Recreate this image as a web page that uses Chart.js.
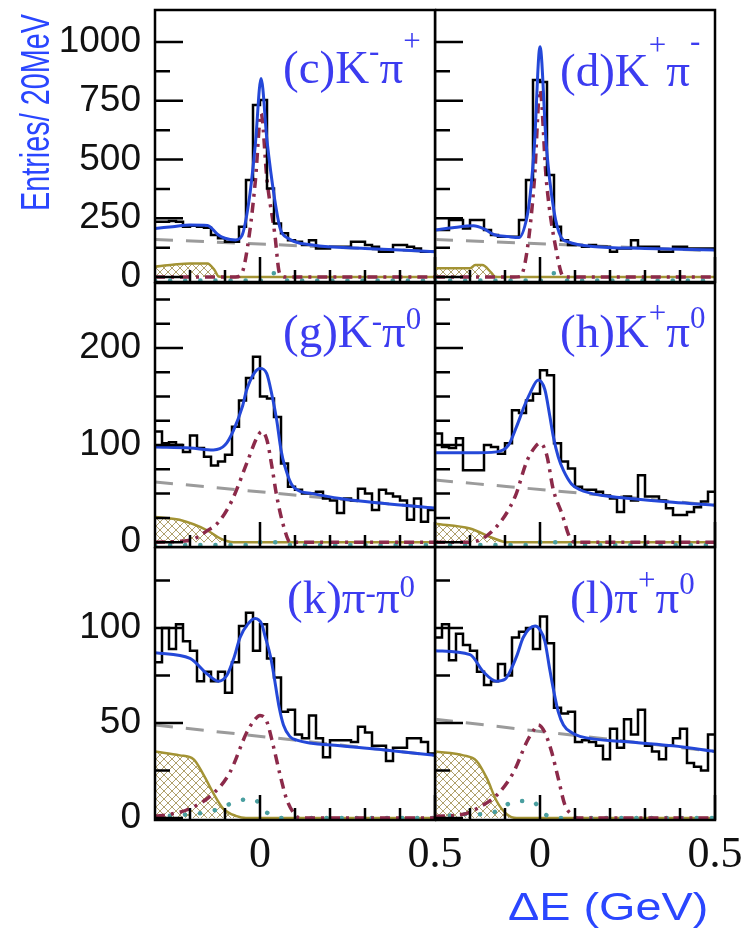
<!DOCTYPE html>
<html>
<head>
<meta charset="utf-8">
<script src="https://cdn.jsdelivr.net/npm/chart.js@4.4.1/dist/chart.umd.min.js"></script>
<style>
  body { margin: 0; background: #fff; }
  #wrap { position: relative; width: 751px; height: 928px; overflow: hidden; background: #fff; }
  canvas { position: absolute; }
  .lbl { position: absolute; font-family: 'Liberation Serif', 'Times New Roman', serif; font-size: 47px; line-height: 1; color: #3c3cf0; white-space: nowrap; }
  .lbl .up { font-size: 31px; line-height: 0; }
  .title { position: absolute; font-family: 'Liberation Sans', Arial, sans-serif; line-height: 1; color: #2a46ff; white-space: nowrap; transform-origin: 0 0; }
</style>
</head>
<body>
<div id="wrap"></div>
<script>
// binning in ΔE (GeV), 20 MeV bins
const xMin = -0.3, xMax = 0.5, binWidth = 0.02;
const xLabels = [0, 0.5];
const xMajor = [0, 0.5];
const xMinor = [-0.2, -0.1, 0.1, 0.2, 0.3, 0.4];
const topTicks = [0, 250, 500, 750, 1000];
const topMinor = [125, 375, 625, 875];
const midTicks = [0, 100, 200];
const midMinor = [25, 50, 75, 125, 150, 175, 225, 250];
const botTicks = [0, 50, 100];
const botMinor = [25, 75, 125];

// (c) K- pi+
const histC = [235,235,238,235,214,218,214,210,179,165,150,150,214,413,732,753,377,228,186,157,150,136,157,122,122,129,129,129,150,150,136,129,108,108,136,136,129,122,108,108];
const fitC = [[-0.3,207],[-0.25,214],[-0.2,221],[-0.15,219],[-0.12,180],[-0.1,165],[-0.07,158],[-0.052,175],[-0.03,340],[-0.013,570],[0.003,845],[0.02,580],[0.042,330],[0.058,205],[0.08,165],[0.15,136],[0.3,122],[0.5,108]];
const bkgC = [[-0.3,160],[0.5,108]];
const sigC = [[-0.3,0],[-0.07,0],[-0.052,16],[-0.03,186],[-0.013,413],[0.003,696],[0.02,413],[0.042,186],[0.056,16],[0.075,0],[0.5,0]];
const peakC = [[-0.3,44],[-0.25,52],[-0.2,58],[-0.15,58],[-0.13,30],[-0.118,2],[-0.1,0],[0.5,0]];
const otherC = [[-0.3,-15],[0.0,-15],[0.02,5],[0.04,16],[0.06,0],[0.08,-15],[0.5,-15]];

// (d) K+ pi-
const histD = [200,200,243,243,207,243,243,200,179,172,172,172,243,413,838,830,434,214,157,136,136,129,136,129,129,108,122,122,157,129,129,129,108,108,129,129,122,122,122,122];
const fitD = [[-0.3,200],[-0.25,210],[-0.19,218],[-0.16,205],[-0.13,180],[-0.09,172],[-0.06,168],[-0.038,250],[-0.028,350],[-0.016,560],[0.0,980],[0.018,560],[0.04,280],[0.06,170],[0.08,150],[0.15,130],[0.3,122],[0.5,115]];
const bkgD = [[-0.3,160],[0.5,112]];
const sigD = [[-0.3,0],[-0.075,0],[-0.057,2],[-0.038,101],[-0.016,413],[0.0,796],[0.018,413],[0.048,101],[0.067,2],[0.085,0],[0.5,0]];
const peakD = [[-0.3,37],[-0.2,37],[-0.185,51],[-0.165,51],[-0.14,20],[-0.128,1],[-0.11,0],[0.5,0]];
const otherD = [[-0.3,-15],[0.0,-15],[0.02,5],[0.04,16],[0.06,0],[0.08,-15],[0.5,-15]];

// (g) K- pi0
const histG = [114,102,103,100,93,110,97,88,79,83,90,119,146,169,191,150,148,129,81,57,54,50,50,52,45,43,30,45,43,55,50,33,54,50,47,43,23,45,21,33];
const fitG = [[-0.3,98],[-0.2,97],[-0.133,95],[-0.1,100],[-0.076,115],[-0.05,140],[-0.038,157],[-0.015,175],[0.0,179],[0.019,174],[0.035,150],[0.048,125],[0.06,95],[0.071,78],[0.095,57],[0.15,50],[0.229,45],[0.35,40],[0.5,35]];
const bkgG = [[-0.3,62],[0.5,35]];
const sigG = [[-0.3,0],[-0.2,2],[-0.15,12],[-0.12,20],[-0.08,43],[-0.036,83],[-0.007,109],[0.005,114],[0.02,105],[0.034,78],[0.048,47],[0.071,12],[0.086,0],[0.5,0]];
const peakG = [[-0.3,26],[-0.23,23],[-0.15,12],[-0.114,4],[-0.076,0],[0.5,0]];
const otherG = [[-0.3,-3],[-0.02,-3],[0.0,0],[0.05,0],[0.08,-3],[0.5,-3]];

// (h) K+ pi0
const histH = [112,98,97,107,74,74,74,100,98,91,102,136,133,146,153,177,172,102,83,76,57,54,54,52,48,45,31,47,43,69,47,47,43,35,28,28,31,36,42,52];
const fitH = [[-0.3,92],[-0.2,92],[-0.124,93],[-0.09,100],[-0.067,119],[-0.045,140],[-0.029,153],[-0.005,167],[0.014,157],[0.028,130],[0.038,109],[0.052,88],[0.067,74],[0.09,60],[0.114,54],[0.18,48],[0.257,45],[0.38,41],[0.5,38]];
const bkgH = [[-0.3,64],[0.5,38]];
const sigH = [[-0.3,0],[-0.2,0],[-0.129,14],[-0.071,47],[-0.038,83],[-0.014,98],[0.0,102],[0.019,90],[0.038,54],[0.062,30],[0.086,4],[0.1,0],[0.5,0]];
const peakH = [[-0.3,19],[-0.2,14],[-0.133,4],[-0.095,0],[0.5,0]];
const otherH = [[-0.3,-3],[-0.02,-3],[0.0,0],[0.05,0],[0.08,-3],[0.5,-3]];

// (k) pi- pi0
const histK = [82,100,89,102,93,88,72,77,72,77,66,82,101,108,88,102,84,74,56,57,44,42,54,42,32,41,41,41,40,48,45,38,38,30,37,37,42,42,40,34];
const fitK = [[-0.3,87],[-0.2,84],[-0.152,76],[-0.119,72],[-0.095,75],[-0.075,84],[-0.057,95],[-0.035,102],[-0.014,105],[0.005,102],[0.014,96],[0.03,85],[0.038,77],[0.055,58],[0.067,49],[0.085,43],[0.105,41],[0.229,38],[0.35,36],[0.5,33]];
const bkgK = [[-0.3,49],[0.5,33]];
const sigK = [[-0.3,1],[-0.257,2],[-0.2,5],[-0.133,13],[-0.086,24],[-0.038,45],[-0.014,52],[0.0,54],[0.019,51],[0.038,38],[0.057,23],[0.076,10],[0.095,3],[0.114,0],[0.5,0]];
const peakK = [[-0.3,35],[-0.229,33],[-0.19,31],[-0.162,23],[-0.133,13],[-0.105,5],[-0.067,1],[-0.04,0],[0.5,0]];
const otherK = [[-0.3,0],[-0.271,1],[-0.2,2],[-0.157,3],[-0.114,5],[-0.067,9],[-0.019,10],[0.019,3],[0.067,0],[0.5,0]];

// (l) pi+ pi0
const histL = [95,102,83,97,91,88,77,70,72,81,75,95,98,100,89,106,92,58,55,56,40,41,40,38,31,47,37,52,44,57,38,35,31,38,42,47,29,27,25,44];
const fitL = [[-0.3,88],[-0.2,86],[-0.162,77],[-0.124,72],[-0.1,73],[-0.086,77],[-0.065,86],[-0.048,95],[-0.014,101],[0.0,99],[0.014,93],[0.028,78],[0.038,68],[0.052,56],[0.067,49],[0.09,45],[0.114,43],[0.257,40],[0.38,38],[0.5,35]];
const bkgL = [[-0.3,52],[0.5,35]];
const sigL = [[-0.3,1],[-0.219,2],[-0.171,6],[-0.124,12],[-0.076,24],[-0.038,40],[-0.019,46],[-0.005,49],[0.014,45],[0.033,35],[0.052,21],[0.071,7],[0.09,2],[0.105,0],[0.5,0]];
const peakL = [[-0.3,35],[-0.219,33],[-0.181,30],[-0.152,21],[-0.124,9],[-0.095,2],[-0.067,0],[0.5,0]];
const otherL = [[-0.3,0],[-0.271,1],[-0.219,2],[-0.162,2],[-0.119,4],[-0.071,9],[-0.024,9],[0.014,2],[0.067,0],[0.5,0]];

// page layout: rows and columns of the 3x2 grid
const rows = [
    { top: 0, height: 300, padTop: 10, xh: 18, yMin: -21, yMax: 1136, ticks: topTicks, minor: topMinor, showX: false },
    { top: 282, height: 283, padTop: 1, xh: 18, yMin: -5, yMax: 267, ticks: midTicks, minor: midMinor, showX: false },
    { top: 547, height: 381, padTop: 0, xh: 108, yMin: -1, yMax: 142.6, ticks: botTicks, minor: botMinor, showX: true }
];
const cols = [
    { left: 0, width: 480, yw: 155, padRight: 45, showY: true },
    { left: 435, width: 316, yw: 0, padRight: 36, showY: false }
];

const panels = [
    { row: 0, col: 0, hist: histC, fit: fitC, bkg: bkgC, sig: sigC, peak: peakC, other: otherC,
      label: '(c)K<span class="up" style="vertical-align:22px">-</span>π<span class="up" style="vertical-align:32px">+</span>', lx: 283, ly: 80 },
    { row: 0, col: 1, hist: histD, fit: fitD, bkg: bkgD, sig: sigD, peak: peakD, other: otherD,
      label: '(d)K<span class="up" style="vertical-align:31px">+</span>π<span class="up" style="vertical-align:35px">-</span>', lx: 560, ly: 80 },
    { row: 1, col: 0, hist: histG, fit: fitG, bkg: bkgG, sig: sigG, peak: peakG, other: otherG,
      label: '(g)K<span class="up" style="vertical-align:16px">-</span>π<span class="up" style="vertical-align:18px">0</span>', lx: 283, ly: 347 },
    { row: 1, col: 1, hist: histH, fit: fitH, bkg: bkgH, sig: sigH, peak: peakH, other: otherH,
      label: '(h)K<span class="up" style="vertical-align:24px">+</span>π<span class="up" style="vertical-align:19px">0</span>', lx: 560, ly: 347 },
    { row: 2, col: 0, hist: histK, fit: fitK, bkg: bkgK, sig: sigK, peak: peakK, other: otherK,
      label: '(k)π<span class="up" style="vertical-align:10px">-</span>π<span class="up" style="vertical-align:16px">0</span>', lx: 287, ly: 613 },
    { row: 2, col: 1, hist: histL, fit: fitL, bkg: bkgL, sig: sigL, peak: peakL, other: otherL,
      label: '(l)π<span class="up" style="vertical-align:23px">+</span>π<span class="up" style="vertical-align:19px">0</span>', lx: 570, ly: 613 }
];

const blue = '#2448d8', red = '#8c2a4a', grey = '#9b9b9b', olive = '#a39334', teal = '#4a9fa0';

function histPoints(counts) {
    const pts = counts.map((c, i) => ({ x: xMin + i * binWidth, y: c }));
    pts.push({ x: xMax, y: counts[counts.length - 1] });
    return pts;
}

function curve(pairs) {
    return pairs.map(p => ({ x: p[0], y: p[1] }));
}

function hatchPattern() {
    const c = document.createElement('canvas');
    c.width = c.height = 8;
    const g = c.getContext('2d');
    g.strokeStyle = 'rgba(150,130,60,0.75)';
    g.lineWidth = 1;
    g.beginPath();
    g.moveTo(0, 0); g.lineTo(8, 8);
    g.moveTo(8, 0); g.lineTo(0, 8);
    g.stroke();
    return g.createPattern(c, 'repeat');
}

// frame and inner tick marks, ROOT style
const framePlugin = {
    id: 'frame',
    afterDatasetsDraw(chart, args, opts) {
        const { ctx, chartArea: a, scales: { x, y } } = chart;
        ctx.save();
        ctx.strokeStyle = '#000';
        ctx.lineWidth = 2.5;
        ctx.beginPath();
        opts.major.forEach(v => {
            const py = y.getPixelForValue(v);
            ctx.moveTo(a.left, py); ctx.lineTo(a.left + 28, py);
        });
        opts.minor.forEach(v => {
            const py = y.getPixelForValue(v);
            ctx.moveTo(a.left, py); ctx.lineTo(a.left + 15, py);
        });
        xMajor.forEach(v => {
            const px = x.getPixelForValue(v);
            ctx.moveTo(px, a.bottom); ctx.lineTo(px, a.bottom - 25);
        });
        xMinor.forEach(v => {
            const px = x.getPixelForValue(v);
            ctx.moveTo(px, a.bottom); ctx.lineTo(px, a.bottom - 12);
        });
        ctx.stroke();
        ctx.strokeRect(a.left, a.top, a.right - a.left, a.bottom - a.top);
        ctx.restore();
    }
};

function makePanel(p, wrap, hatch) {
    const r = rows[p.row], c = cols[p.col];
    const canvas = document.createElement('canvas');
    canvas.width = c.width;
    canvas.height = r.height;
    canvas.style.left = c.left + 'px';
    canvas.style.top = r.top + 'px';
    wrap.appendChild(canvas);

    const line = { pointRadius: 0, fill: false, cubicInterpolationMode: 'monotone' };

    new Chart(canvas.getContext('2d'), {
        type: 'line',
        data: {
            datasets: [
                { ...line, data: curve(p.fit), borderColor: blue, borderWidth: 3, order: 0 },
                { ...line, data: histPoints(p.hist), borderColor: '#000', borderWidth: 2.5, stepped: true, order: 1 },
                { ...line, data: curve(p.sig), borderColor: red, borderWidth: 3.5, borderDash: [10, 6, 3, 6], order: 2 },
                { ...line, data: curve(p.other), borderColor: teal, borderWidth: 4.5, borderDash: [0.1, 15], borderCapStyle: 'round', order: 3 },
                { ...line, data: curve(p.bkg), borderColor: grey, borderWidth: 3, borderDash: [18, 13], order: 4 },
                { ...line, data: curve(p.peak), borderColor: olive, borderWidth: 2.5, backgroundColor: hatch, fill: 'origin', order: 5 }
            ]
        },
        options: {
            responsive: false,
            animation: false,
            events: [],
            layout: { padding: { top: r.padTop, right: c.padRight, left: 0, bottom: 0 } },
            plugins: {
                legend: { display: false },
                tooltip: { enabled: false },
                frame: { major: r.ticks, minor: r.minor }
            },
            scales: {
                x: {
                    type: 'linear', min: xMin, max: xMax,
                    afterBuildTicks: ax => { ax.ticks = xLabels.map(v => ({ value: v })); },
                    afterFit: s => { s.height = r.xh; s.paddingLeft = 0; s.paddingRight = 0; },
                    grid: { display: false, drawTicks: false },
                    border: { display: false },
                    ticks: {
                        display: r.showX, autoSkip: false, maxRotation: 0, padding: 9, color: '#111',
                        font: { family: "'Liberation Serif', 'Times New Roman', serif", size: 44, lineHeight: 1.2 },
                        callback: v => String(v)
                    }
                },
                y: {
                    type: 'linear', min: r.yMin, max: r.yMax,
                    afterBuildTicks: ax => { ax.ticks = r.ticks.map(v => ({ value: v })); },
                    afterFit: s => { s.width = c.yw; s.paddingTop = 0; s.paddingBottom = 0; },
                    grid: { display: false, drawTicks: false },
                    border: { display: false },
                    ticks: {
                        display: c.showY, padding: 14, color: '#111',
                        font: { family: "'Liberation Sans', Arial, sans-serif", size: 37 },
                        callback: v => String(v)
                    }
                }
            }
        },
        plugins: [framePlugin]
    });

    const lbl = document.createElement('div');
    lbl.className = 'lbl';
    lbl.style.left = p.lx + 'px';
    lbl.style.top = (p.ly - 39) + 'px';
    lbl.innerHTML = p.label;
    wrap.appendChild(lbl);
}

document.addEventListener('DOMContentLoaded', () => {
    const wrap = document.getElementById('wrap');
    const hatch = hatchPattern();
    panels.forEach(p => makePanel(p, wrap, hatch));

    // axis titles
    const yTitle = document.createElement('div');
    yTitle.className = 'title';
    yTitle.textContent = 'Entries/ 20MeV';
    yTitle.style.cssText = 'left:15px; top:211px; font-size:40px; transform: rotate(-90deg) scaleX(0.72);';
    wrap.appendChild(yTitle);

    const xTitle = document.createElement('div');
    xTitle.className = 'title';
    xTitle.textContent = 'ΔE (GeV)';
    xTitle.style.cssText = 'left:508px; top:887px; font-size:39px; transform: scaleX(1.2);';
    wrap.appendChild(xTitle);
});
</script>
</body>
</html>
